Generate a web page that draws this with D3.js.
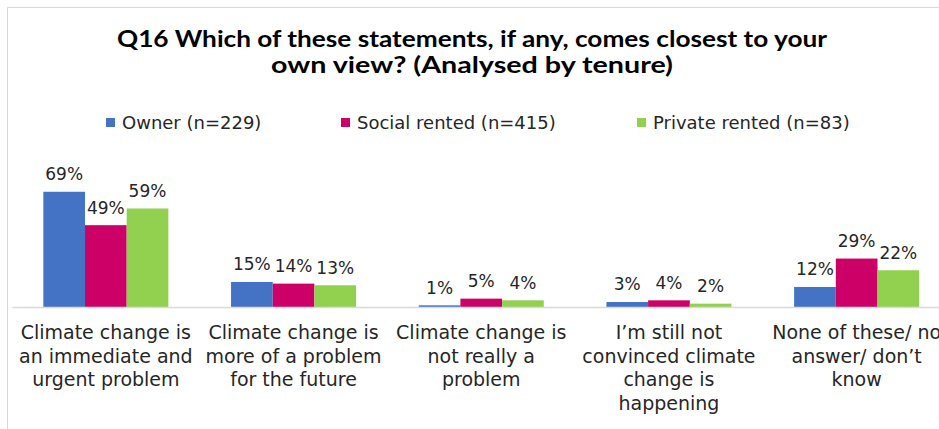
<!DOCTYPE html>
<html>
<head>
<meta charset="utf-8">
<script src="https://cdn.jsdelivr.net/npm/d3@7"></script>
<style>
  html, body { margin: 0; padding: 0; background: #fff; overflow: hidden; }
  svg { display: block; }
</style>
</head>
<body>
<svg id="chart" width="939" height="429"></svg>
<script>
// Question categories (each entry is the wrapped label lines)
const categories = [
  ["Climate change is", "an immediate and", "urgent problem"],
  ["Climate change is", "more of a problem", "for the future"],
  ["Climate change is", "not really a", "problem"],
  ["I’m still not", "convinced climate", "change is", "happening"],
  ["None of these/ no", "answer/ don’t", "know"]
];
const seriesNames = ["Owner (n=229)", "Social rented (n=415)", "Private rented (n=83)"];
const ownerValues = [69, 15, 1, 3, 12];
const socialValues = [49, 14, 5, 4, 29];
const privateValues = [59, 13, 4, 2, 22];
const seriesColors = ["#4472C4", "#CC0066", "#92D050"];
const titleLines = [
  "Q16 Which of these statements, if any, comes closest to your",
  "own view? (Analysed by tenure)"
];

const seriesValues = [ownerValues, socialValues, privateValues];
const svg = d3.select("#chart");
const font = "'DejaVu Sans', sans-serif";

// Frame of the chart area
svg.append("line").attr("x1", 7.5).attr("x2", 939).attr("y1", 7.5).attr("y2", 7.5)
  .attr("stroke", "#d9d9d9").attr("stroke-width", 1);
svg.append("line").attr("x1", 7.5).attr("x2", 7.5).attr("y1", 7.5).attr("y2", 429)
  .attr("stroke", "#d9d9d9").attr("stroke-width", 1);

// Title: wide geometric bold look, stretched to its line widths
const titleWidths = [710, 402];
svg.append("text")
  .attr("text-anchor", "middle")
  .attr("font-family", "Lato, sans-serif")
  .attr("font-weight", "bold")
  .attr("font-size", 23)
  .attr("fill", "#000")
  .selectAll("tspan").data(titleLines).join("tspan")
  .attr("x", 472)
  .attr("y", (d, i) => 47 + i * 26)
  .attr("textLength", (d, i) => titleWidths[i])
  .attr("lengthAdjust", "spacingAndGlyphs")
  .text(d => d);

// Legend
const legendX = [106, 341, 637];
const legend = svg.append("g").selectAll("g").data(seriesNames).join("g")
  .attr("transform", (d, i) => `translate(${legendX[i]},0)`);
legend.append("rect").attr("x", 0).attr("y", 118).attr("width", 9).attr("height", 9)
  .attr("fill", (d, i) => seriesColors[i]);
legend.append("text").attr("x", 16).attr("y", 129)
  .attr("font-family", font).attr("font-size", 18).attr("fill", "#262626")
  .text(d => d);

// Scales
const x0 = d3.scaleBand()
  .domain(d3.range(categories.length))
  .range([12, 950.5])
  .paddingInner(0.334)
  .paddingOuter(0.167);
const x1 = d3.scaleBand()
  .domain(d3.range(seriesNames.length))
  .range([0, x0.bandwidth()]);
const y = d3.scaleLinear().domain([0, 100]).range([307, 140]);

// Bars
const groups = svg.append("g").selectAll("g").data(categories).join("g")
  .attr("transform", (d, i) => `translate(${x0(i)},0)`);
groups.selectAll("rect")
  .data((d, ci) => seriesValues.map((vals, si) => ({ si, v: vals[ci] })))
  .join("rect")
  .attr("x", d => x1(d.si))
  .attr("y", d => y(d.v))
  .attr("width", x1.bandwidth())
  .attr("height", d => y(0) - y(d.v))
  .attr("fill", d => seriesColors[d.si]);

// Value labels
groups.selectAll("text.val")
  .data((d, ci) => seriesValues.map((vals, si) => ({ si, v: vals[ci] })))
  .join("text")
  .attr("class", "val")
  .attr("x", d => x1(d.si) + x1.bandwidth() / 2)
  .attr("y", d => y(d.v) - 11.5)
  .attr("text-anchor", "middle")
  .attr("font-family", font)
  .attr("font-size", 17)
  .attr("fill", "#262626")
  .text(d => d.v + "%");

// Category axis
const xAxis = d3.axisBottom(x0).tickSize(0).tickFormat("");
const axisG = svg.append("g").attr("transform", "translate(0,307)").call(xAxis);
axisG.select(".domain").attr("stroke", "#d9d9d9").attr("stroke-width", 1.5);

// Category labels
svg.append("g").selectAll("text").data(categories).join("text")
  .attr("text-anchor", "middle")
  .attr("font-family", font)
  .attr("font-size", 19)
  .attr("fill", "#262626")
  .each(function (lines, i) {
    d3.select(this).selectAll("tspan").data(lines).join("tspan")
      .attr("x", x0(i) + x0.bandwidth() / 2)
      .attr("y", (d, j) => 339 + j * 23.5)
      .text(d => d);
  });
</script>
</body>
</html>
